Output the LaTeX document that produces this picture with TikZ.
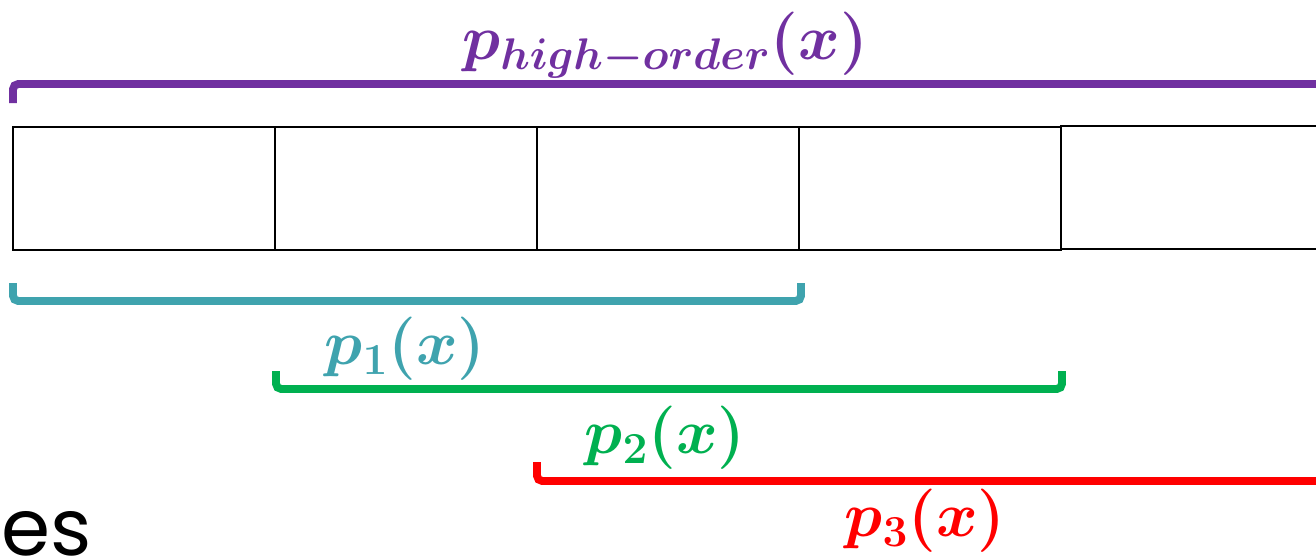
\documentclass[tikz,border=0pt]{standalone}
\usepackage{fix-cm}
\usepackage{amsmath, amssymb, bm}
\usepackage{fontspec}
\newfontfamily\gothic{Poppins}
\usepackage{tikz}
\usetikzlibrary{positioning}
\definecolor{mixpurple}{HTML}{7030A0}
\definecolor{mixteal}{HTML}{3FA3AE}
\definecolor{mixgreen}{HTML}{00B050}
\definecolor{mixred}{HTML}{FF0000}
\newcommand{\biglabel}{\fontsize{36}{42}\selectfont}
\tikzset{
  cell/.style={draw=black, line width=1.1pt, minimum width=5.24cm,
               minimum height=2.46cm, outer sep=0pt, inner sep=0pt},
  brk/.style={line width=4.5pt, rounded corners=3pt},
  lbl/.style={inner sep=0pt, font=\biglabel}
}

\begin{document}
\begin{tikzpicture}[x=0.02cm, y=-0.02cm]
    \useasboundingbox (0,0) rectangle (1316,558);
    \clip (0,0) rectangle (1316,558);

    \node[cell] (c1) at (144,188.5) {};
    \node[cell, right=0pt of c1] (c2) {};
    \node[cell, right=0pt of c2] (c3) {};
    \node[cell, right=0pt of c3] (c4) {};
    \node[cell, right=0pt of c4, yshift=0.5pt] (c5) {};

    % brackets
    \draw[brk, mixpurple] (13,103) -- (13,84) -- (1340,84);
    \draw[brk, mixteal] (13,283) -- (13,301) -- (801,301) -- (801,283);
    \draw[brk, mixgreen] (276,371) -- (276,389) -- (1062,389) -- (1062,371);
    \draw[brk, mixred] (537,462) -- (537,481) -- (1340,481);

    \node[lbl, text=mixpurple] (phigh) at (665,45) {$\bm{p_{high-order}(x)}$};
    \node[lbl, text=mixteal] (pone) at (405,349) {$\bm{p_{1}(x)}$};
    \node[lbl, text=mixgreen] (ptwo) at (665,438) {$\bm{p_{2}(x)}$};
    \node[lbl, text=mixred] (pthree) at (925,521) {$\bm{p_{3}(x)}$};

    \node[inner sep=0pt, anchor=base west, font=\gothic\fontsize{45}{50}\selectfont]
      (tail) at (1,555) {es};
\end{tikzpicture}
\end{document}
